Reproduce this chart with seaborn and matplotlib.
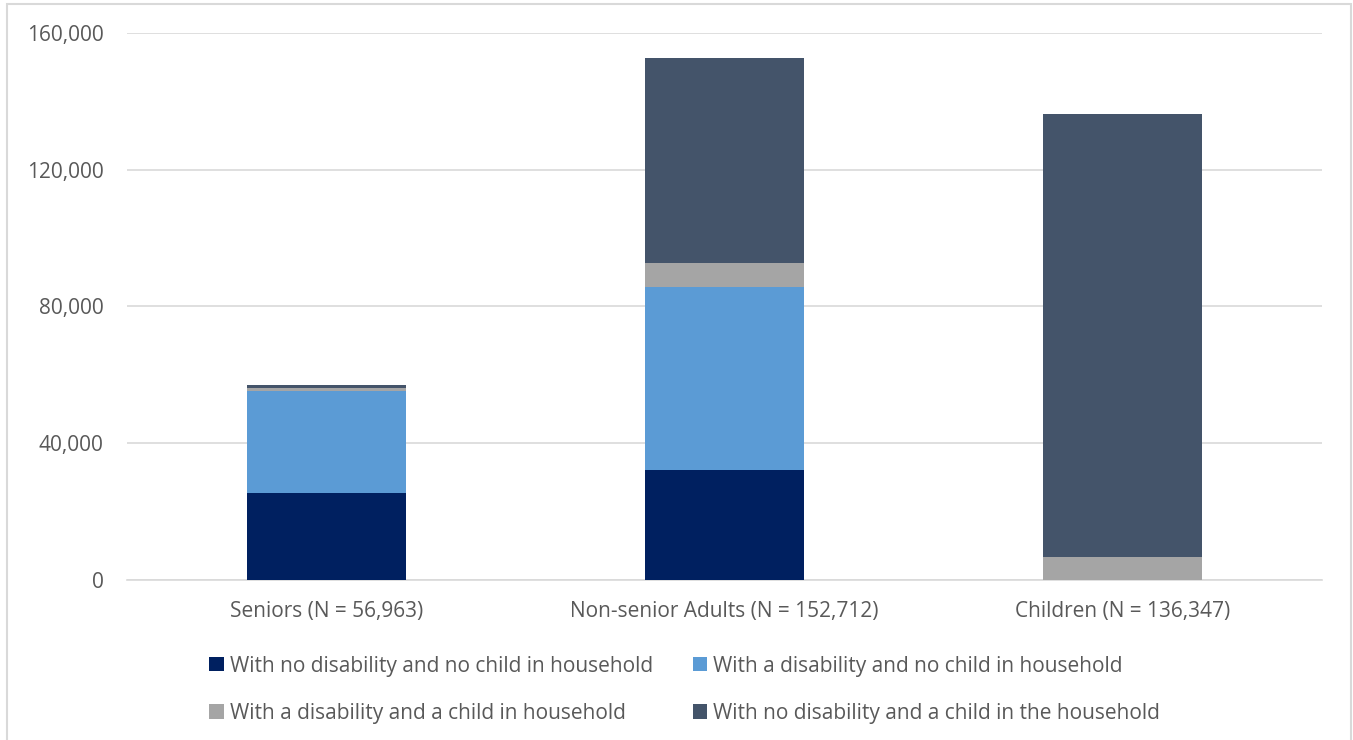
import matplotlib
matplotlib.use("Agg")
import matplotlib.pyplot as plt
from matplotlib.patches import Rectangle, Patch
from matplotlib.ticker import FuncFormatter
import seaborn as sns
import pandas as pd
import numpy as np

categories = ["Seniors (N = 56,963)", "Non-senior Adults (N = 152,712)", "Children (N = 136,347)"]
series_names = [
    "With no disability and no child in household",
    "With a disability and no child in household",
    "With a disability and a child in household",
    "With no disability and a child in the household",
]
no_dis_no_child = [25400, 32200, 0]
dis_no_child = [29900, 53400, 0]
dis_child = [800, 7000, 6700]
no_dis_child = [863, 60112, 129647]
colors = ["#002060", "#5B9BD5", "#A5A5A5", "#44546A"]
y_ticks = [0, 40000, 80000, 120000, 160000]

sns.set_theme(style="white")
plt.rcParams["font.family"] = ["Open Sans", "DejaVu Sans"]
text_color = "#595959"

fig = plt.figure(figsize=(13.53, 7.4), dpi=100)
ax = fig.add_axes([0.0939, 0.2162, 0.8831, 0.7396])

series = [no_dis_no_child, dis_no_child, dis_child, no_dis_child]
cum = np.cumsum(np.array(series, dtype=float), axis=0)

# Stack by drawing cumulative totals from the top layer down
for i in range(len(series) - 1, -1, -1):
    df = pd.DataFrame({"category": categories, "value": cum[i]})
    sns.barplot(data=df, x="category", y="value", color=colors[i], width=0.40,
                saturation=1, ax=ax, zorder=2 + (len(series) - i), linewidth=0)

ax.set_ylim(0, 160000)
ax.set_yticks(y_ticks)
ax.yaxis.set_major_formatter(FuncFormatter(lambda v, p: f"{int(v):,}"))
ax.yaxis.grid(True, color="#D9D9D9", linewidth=1.2, zorder=0)
ax.set_axisbelow(True)
for s in ["top", "right", "left"]:
    ax.spines[s].set_visible(False)
ax.spines["bottom"].set_color("#D9D9D9")
ax.spines["bottom"].set_linewidth(1.2)
ax.set_xlabel("")
ax.set_ylabel("")
ax.tick_params(axis="both", length=0, labelsize=15, labelcolor=text_color)
ax.tick_params(axis="y", pad=17)
ax.tick_params(axis="x", pad=15)

handles = [Patch(facecolor=colors[k], edgecolor="none") for k in [0, 2, 1, 3]]
labels = [series_names[k] for k in [0, 2, 1, 3]]
fig.legend(handles, labels, ncol=2, loc="center", bbox_to_anchor=(0.506, 0.068),
           frameon=False, fontsize=15, labelcolor=text_color, handlelength=0.68,
           handleheight=0.68, handletextpad=0.3, columnspacing=1.9, labelspacing=1.26)

fig.patches.append(Rectangle((0.0052, -0.05), 0.9934, 1.045, transform=fig.transFigure,
                             fill=False, edgecolor="#D9D9D9", linewidth=1.5))

fig.savefig("out.png", dpi=100, facecolor="white")
